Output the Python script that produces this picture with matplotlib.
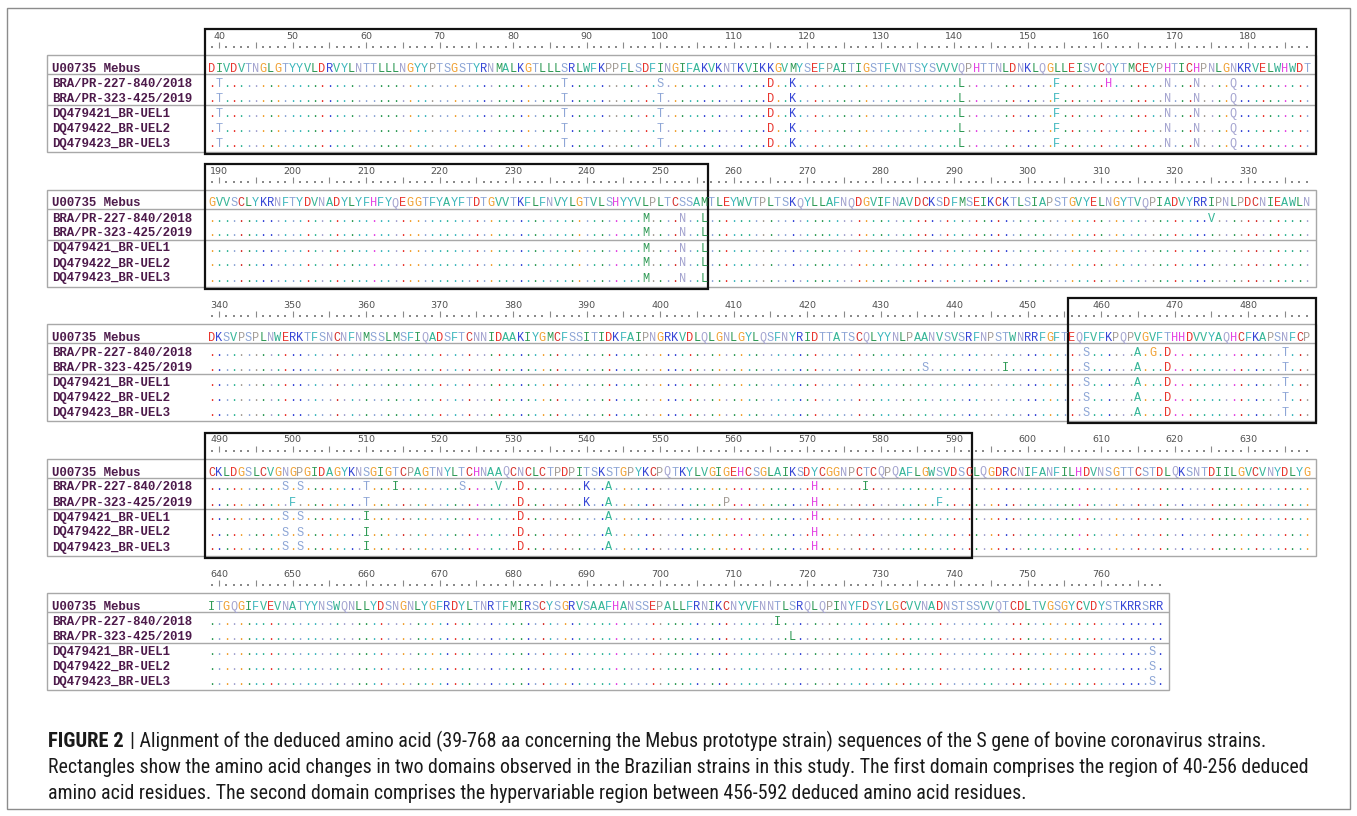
import matplotlib
matplotlib.use('Agg')
import matplotlib.pyplot as plt
from matplotlib.patches import Rectangle
from matplotlib import font_manager

W, H = 1357, 816

# alignment blocks (Mebus numbering)
block_start = [39, 189, 339, 489, 639]
ref_blocks = [
    "DIVDVTNGLGTYYVLDRVYLNTTLLLNGYYPTSGSTYRNMALKGTLLLSRLWFKPPFLSDFINGIFAKVKNTKVI"
    "KKGVMYSEFPAITIGSTFVNTSYSVVVQPHTTNLDNKLQGLLEISVCQYTMCEYPHTICHPNLGNKRVELWHWDT",
    "GVVSCLYKRNFTYDVNADYLYFHFYQEGGTFYAYFTDTGVVTKFLFNVYLGTVLSHYYVLPLTCSSAMTLEYWVT"
    "PLTSKQYLLAFNQDGVIFNAVDCKSDFMSEIKCKTLSIAPSTGVYELNGYTVQPIADVYRRIPNLPDCNIEAWLN",
    "DKSVPSPLNWERKTFSNCNFNMSSLMSFIQADSFTCNNIDAAKIYGMCFSSITIDKFAIPNGRKVDLQLGNLGYL"
    "QSFNYRIDTTATSCQLYYNLPAANVSVSRFNPSTWNRRFGFTEQFVFKPQPVGVFTHHDVVYAQHCFKAPSNFCP",
    "CKLDGSLCVGNGPGIDAGYKNSGIGTCPAGTNYLTCHNAAQCNCLCTPDPITSKSTGPYKCPQTKYLVGIGEHCS"
    "GLAIKSDYCGGNPCTCQPQAFLGWSVDSCLQGDRCNIFANFILHDVNSGTTCSTDLQKSNTDIILGVCVNYDLYG",
    "ITGQGIFVEVNATYYNSWQNLLYDSNGNLYGFRDYLTNRTFMIRSCYSGRVSAAFHANSSEPALLFRNIKCNYVF"
    "NNTLSRQLQPINYFDSYLGCVVNADNSTSSVVQTCDLTVGSGYCVDYSTKRRSRR",
]

strain_names = ["U00735 Mebus", "BRA/PR-227-840/2018", "BRA/PR-323-425/2019",
                "DQ479421_BR-UEL1", "DQ479422_BR-UEL2", "DQ479423_BR-UEL3"]

# substitutions vs Mebus (position: residue)
sub_bra227 = {40: 'T', 87: 'T', 100: 'S', 115: 'D', 118: 'K', 141: 'L', 154: 'F',
              161: 'H', 169: 'N', 173: 'N', 178: 'Q',
              248: 'M', 253: 'N', 256: 'L', 325: 'V',
              458: 'S', 465: 'A', 467: 'G', 469: 'D', 485: 'T',
              499: 'S', 501: 'S', 510: 'T', 514: 'I', 523: 'S', 528: 'V', 531: 'D',
              540: 'K', 543: 'A', 571: 'H', 578: 'I',
              716: 'I'}
sub_bra323 = {40: 'T', 87: 'T', 100: 'T', 115: 'D', 118: 'K', 141: 'L', 154: 'F',
              169: 'N', 173: 'N', 178: 'Q',
              248: 'M', 253: 'N', 256: 'L',
              436: 'S', 447: 'I', 458: 'S', 465: 'A', 469: 'D', 485: 'T',
              500: 'F', 510: 'T', 531: 'D', 540: 'K', 543: 'A', 559: 'P', 571: 'H', 588: 'F',
              718: 'L'}
sub_uel = {40: 'T', 87: 'T', 100: 'T', 115: 'D', 118: 'K', 141: 'L', 154: 'F',
           169: 'N', 173: 'N', 178: 'Q',
           248: 'M', 253: 'N', 256: 'L',
           458: 'S', 465: 'A', 469: 'D', 485: 'T',
           499: 'S', 501: 'S', 510: 'I', 531: 'D', 543: 'A', 571: 'H',
           767: 'S'}
strain_subs = [{}, sub_bra227, sub_bra323, sub_uel, sub_uel, sub_uel]

# boxed domains: (block, first, last)
domain_boxes = [(0, 39, 188), (1, 189, 256), (2, 456, 488), (3, 489, 592)]

aa_color = {
    'D': '#e8342c', 'E': '#e8342c', 'C': '#d52f2a',
    'G': '#f0a030', 'H': '#e343e3',
    'K': '#3545d6', 'R': '#3545d6',
    'N': '#a3a3cf', 'Q': '#a3a3cf',
    'S': '#8ea6d6', 'T': '#8ea6d6', 'P': '#a39c95',
    'Y': '#3db7bd', 'F': '#3db7bd', 'W': '#2fae8f',
    'V': '#33b596', 'A': '#33b596',
    'L': '#2f9a55', 'I': '#2f9a55', 'M': '#2f9a55',
}

mebus = "".join(ref_blocks)
first_pos = block_start[0]
strain_seqs = []
for subs in strain_subs:
    s = list(mebus)
    for p, aa in subs.items():
        s[p - first_pos] = aa
    strain_seqs.append("".join(s))

# layout (pixels)
CW = 7.35
SEQ_X = 208
LAB_X = 52
TAB_L = 47
ref_y = [68, 202.5, 337, 471.5, 606]
row_off = [0, 15, 30, 45, 60, 75]
GRID = '#a8a8a8'
MONO = ['Liberation Mono', 'DejaVu Sans Mono']

fig = plt.figure(figsize=(W / 100, H / 100), dpi=100)
ax0 = fig.add_axes([0, 0, 1, 1])
ax0.set_xlim(0, W)
ax0.set_ylim(H, 0)
ax0.axis('off')

ax0.add_patch(Rectangle((7, 8), 1343, 801, fill=False, ec='#8c8c8c', lw=1))

for b, start in enumerate(block_start):
    ref = ref_blocks[b]
    n = len(ref)
    y0 = ref_y[b]
    ax = fig.add_axes([SEQ_X / W, 0, n * CW / W, 1])
    ax.set_xlim(start - 0.5, start + n - 0.5)
    ax.set_ylim(H, 0)
    ax.axis('off')
    pos = list(range(start, start + n))

    # ruler
    ticks = [p for p in pos if p % 5 == 0]
    dots = [p for p in pos if p % 5]
    ax.vlines(ticks, y0 - 26, y0 - 20, color='#8a8a8a', lw=0.8)
    ax.scatter(dots, [y0 - 21] * len(dots), s=1.2, color='#8a8a8a', marker='s', lw=0)
    for p in ticks:
        if p % 10 == 0:
            ax.text(p, y0 - 29, str(p), ha='center', va='baseline', fontsize=6.8,
                    color='#505050', family='DejaVu Sans')

    # table frame
    right = SEQ_X + n * CW + 5
    ax0.add_patch(Rectangle((TAB_L, y0 - 13), right - TAB_L, 97, fill=False, ec=GRID, lw=1))
    ax0.hlines([y0 + 6, y0 + 37], TAB_L, right, color=GRID, lw=1)

    # rows
    for r, name in enumerate(strain_names):
        yb = y0 + row_off[r] + 4
        ax0.text(LAB_X, yb, name, ha='left', va='baseline', fontsize=8.9,
                 fontweight='bold', color='#4d1a4b', family=MONO)
        seq = strain_seqs[r][start - first_pos:start - first_pos + n]
        for p, ch, rc in zip(pos, seq, ref):
            if r > 0 and ch == rc:
                glyph, col = '.', aa_color[rc]
            else:
                glyph, col = ch, aa_color[ch]
            ax.text(p, yb, glyph, ha='center', va='baseline', fontsize=8.6,
                    color=col, family=MONO)

    # domain rectangles
    for bb, p0, p1 in domain_boxes:
        if bb != b:
            continue
        x0 = p0 - 0.5 - (0.4 if p0 == start else 0)
        x1 = p1 + 0.5 + (0.7 if p1 == start + n - 1 else 0)
        ax.add_patch(Rectangle((x0, y0 - 39), x1 - x0, 125, fill=False, ec='#111111',
                               lw=1.6, clip_on=False))

# caption
cap_lines = [
    "| Alignment of the deduced amino acid (39-768 aa concerning the Mebus prototype strain) "
    "sequences of the S gene of bovine coronavirus strains.",
    "Rectangles show the amino acid changes in two domains observed in the Brazilian strains in "
    "this study. The first domain comprises the region of 40-256 deduced",
    "amino acid residues. The second domain comprises the hypervariable region between 456-592 "
    "deduced amino acid residues.",
]
avail = {f.name for f in font_manager.fontManager.ttflist}
cap_font = 'DejaVu Sans'
for cand in ['Liberation Sans Narrow', 'Roboto Condensed', 'Open Sans Condensed', 'Roboto']:
    if cand in avail:
        cap_font = cand
        break

renderer = fig.canvas.get_renderer()
probe = ax0.text(48, 0, cap_lines[1], fontsize=12, family=cap_font)
wpx = probe.get_window_extent(renderer).width
probe.remove()
cap_size = 12 * 1262 / wpx

cap_y = [747, 773, 799]
t = ax0.text(48, cap_y[0], "FIGURE 2", fontsize=cap_size * 1.04, fontweight='bold',
             family=cap_font, color='#1a1a1a', va='baseline')
bx = t.get_window_extent(renderer).x1 + 6
ax0.text(bx, cap_y[0], cap_lines[0], fontsize=cap_size, family=cap_font,
         color='#1a1a1a', va='baseline')
for yy, line in zip(cap_y[1:], cap_lines[1:]):
    ax0.text(48, yy, line, fontsize=cap_size, family=cap_font, color='#1a1a1a', va='baseline')

fig.savefig('out.png', dpi=100)
